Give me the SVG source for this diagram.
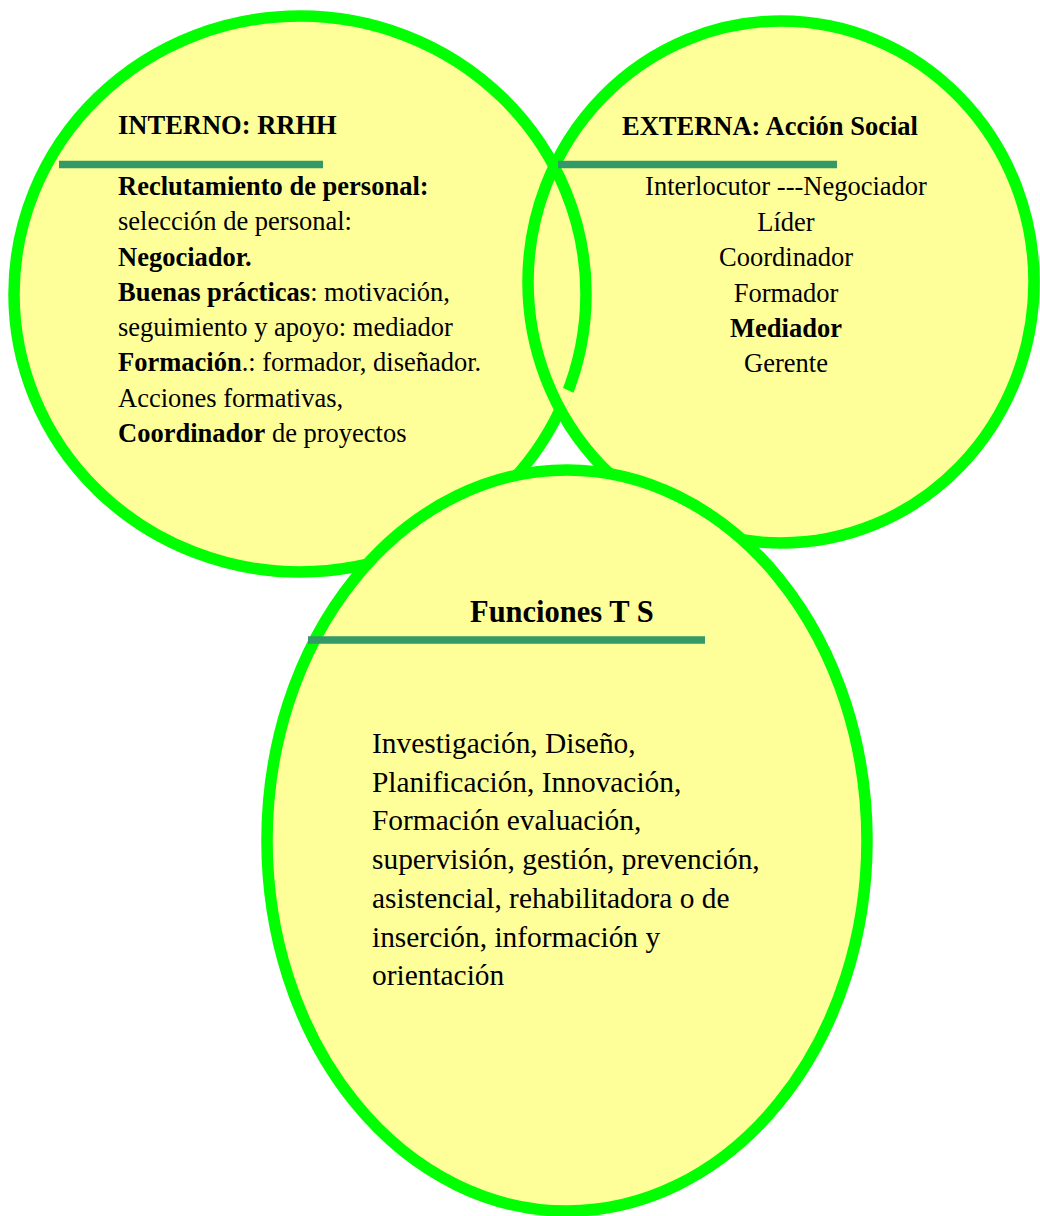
<svg xmlns="http://www.w3.org/2000/svg" width="1040" height="1216" viewBox="0 0 1040 1216">
<style>
.fill{fill:#FFFF99;stroke:none}
.ring{fill:none;stroke:#00FF00;stroke-width:11.5}
.both{fill:#FFFF99;stroke:#00FF00;stroke-width:11.5}
.bar{stroke:#339966;stroke-width:7.5;stroke-linecap:butt}
text{font-family:"Liberation Serif","Times New Roman",serif;fill:#000}
.t{font-size:26.5px}
.b{font-weight:bold}
.m{font-size:29.4px}
.h{font-size:30.5px;font-weight:bold}
</style>
<rect width="1040" height="1216" fill="#FFFFFF"/>
<g id="back-fills">
<ellipse class="fill" cx="300" cy="294" rx="286" ry="278"/>
<ellipse class="fill" cx="781" cy="282" rx="253" ry="261"/>
</g>
<g id="node-interno">
<ellipse class="ring" cx="300" cy="294" rx="286" ry="278"/>
<line x1="567.5" y1="390" x2="558" y2="411" stroke="#FFFF99" stroke-width="14"/>
</g>
<g id="node-externa">
<ellipse class="ring" cx="781" cy="282" rx="253" ry="261"/>
</g>
<g id="node-funciones">
<ellipse class="both" cx="567" cy="840.5" rx="300" ry="370.5"/>
</g>
<g id="connectors">
<line class="bar" x1="59" y1="164.5" x2="323" y2="164.5"/>
<line class="bar" x1="558" y1="164.5" x2="837" y2="164.5"/>
<line class="bar" x1="308" y1="640" x2="705" y2="640"/>
</g>
<g id="text-interno" class="t">
<text class="t b" x="118" y="134">INTERNO: RRHH</text>
<text class="t b" x="118" y="194.5">Reclutamiento de personal:</text>
<text class="t" x="118" y="230">selección de personal:</text>
<text class="t b" x="118" y="265.5">Negociador.</text>
<text class="t" x="118" y="301"><tspan class="b">Buenas prácticas</tspan>: motivación,</text>
<text class="t" x="118" y="336">seguimiento y apoyo: mediador</text>
<text class="t" x="118" y="371"><tspan class="b">Formación</tspan>.: formador, diseñador.</text>
<text class="t" x="118" y="406.5">Acciones formativas,</text>
<text class="t" x="118" y="442"><tspan class="b">Coordinador</tspan> de proyectos</text>
</g>
<g id="text-externa">
<text class="t b" x="622" y="135">EXTERNA: Acción Social</text>
<g text-anchor="middle">
<text class="t" x="786" y="195">Interlocutor ---Negociador</text>
<text class="t" x="786" y="230.5">Líder</text>
<text class="t" x="786" y="266">Coordinador</text>
<text class="t" x="786" y="301.5">Formador</text>
<text class="t b" x="786" y="337">Mediador</text>
<text class="t" x="786" y="372">Gerente</text>
</g>
</g>
<g id="text-funciones">
<text class="h" x="470" y="622">Funciones T S</text>
<text class="m" x="372" y="753">Investigación, Diseño,</text>
<text class="m" x="372" y="791.7">Planificación, Innovación,</text>
<text class="m" x="372" y="830.4">Formación evaluación,</text>
<text class="m" x="372" y="869">supervisión, gestión, prevención,</text>
<text class="m" x="372" y="907.8">asistencial, rehabilitadora o de</text>
<text class="m" x="372" y="946.5">inserción, información y</text>
<text class="m" x="372" y="985">orientación</text>
</g>
</svg>
